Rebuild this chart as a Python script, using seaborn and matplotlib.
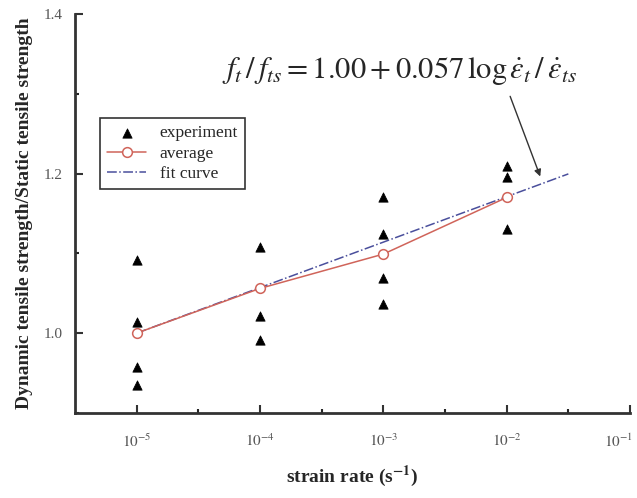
import numpy as np
import pandas as pd
import seaborn as sns
import matplotlib.pyplot as plt
import matplotlib.transforms as mtransforms

# strain rates (s^-1)
rates = [1e-5, 1e-4, 1e-3, 1e-2]

# experiment points
exp_rate = [1e-5, 1e-5, 1e-5, 1e-5,
            1e-4, 1e-4, 1e-4,
            1e-3, 1e-3, 1e-3, 1e-3,
            1e-2, 1e-2, 1e-2]
exp_ratio = [1.092, 1.014, 0.958, 0.935,
             1.108, 1.021, 0.991,
             1.171, 1.124, 1.069, 1.037,
             1.210, 1.195, 1.131]

avg_ratio = [1.000, 1.056, 1.099, 1.170]

# fit: f_t/f_ts = 1.00 + 0.057 log(rate / 1e-5)
fit_a = 1.00
fit_b = 0.057
fit_ref = 1e-5
fit_rate = [1e-5, 10 ** -1.5]

xtick_labels = [r'$10^{-5}$', r'$10^{-4}$', r'$10^{-3}$', r'$10^{-2}$', r'$10^{-1}$']
ytick_labels = ['1.0', '1.2', '1.4']

sns.set_style("ticks")
plt.rcParams['font.family'] = ['Liberation Serif', 'DejaVu Serif']
plt.rcParams['mathtext.fontset'] = 'stix'
plt.rcParams['xtick.direction'] = 'in'
plt.rcParams['ytick.direction'] = 'in'

df_exp = pd.DataFrame({'rate': exp_rate, 'ratio': exp_ratio})
df_avg = pd.DataFrame({'rate': rates, 'ratio': avg_ratio})
df_fit = pd.DataFrame({'rate': fit_rate})
df_fit['ratio'] = fit_a + fit_b * np.log10(df_fit['rate'] / fit_ref)

fig = plt.figure(figsize=(6.37, 4.98), dpi=100)
ax = fig.add_axes([0.118, 0.171, 0.871, 0.801])

sns.lineplot(data=df_fit, x='rate', y='ratio', ax=ax, color='#4a4f9c',
             linestyle='-.', linewidth=1.1, label='fit curve', zorder=2)
sns.lineplot(data=df_avg, x='rate', y='ratio', ax=ax, color='#d0645a',
             linewidth=1.1, marker='o', markersize=7, markerfacecolor='white',
             markeredgecolor='#d0645a', markeredgewidth=1.1, label='average', zorder=3)
sns.scatterplot(data=df_exp, x='rate', y='ratio', ax=ax, marker='^', color='black',
                s=45, edgecolor='black', label='experiment', zorder=4)

ax.set_xscale('log')
ax.set_xlim(10 ** -5.5, 1e-1)
ax.set_ylim(0.9, 1.4)
ax.set_xticks([1e-5, 1e-4, 1e-3, 1e-2, 1e-1])
ax.set_xticklabels(xtick_labels)
ax.set_xticks([10 ** -4.5, 10 ** -3.5, 10 ** -2.5, 10 ** -1.5], minor=True)
ax.set_yticks([1.0, 1.2, 1.4])
ax.set_yticklabels(ytick_labels)
ax.set_yticks([0.9, 1.1, 1.3], minor=True)
ax.tick_params(axis='both', which='major', length=6, width=1.5, labelsize=11, colors='#333333')
ax.tick_params(axis='x', which='major', pad=14)
ax.tick_params(axis='y', which='major', pad=9)
ax.tick_params(axis='both', which='minor', length=3, width=1.5)
for lab in ax.get_xticklabels() + ax.get_yticklabels():
    lab.set_color('#555555')
# keep the last x label inside the figure
last = ax.get_xticklabels()[-1]
last.set_transform(last.get_transform() + mtransforms.ScaledTranslation(-8 / 72, 0, fig.dpi_scale_trans))

sns.despine(ax=ax)
ax.spines['left'].set_linewidth(2)
ax.spines['bottom'].set_linewidth(2)
ax.spines['left'].set_color('#333333')
ax.spines['bottom'].set_color('#333333')

ax.set_xlabel(r'strain rate (s$^{\mathbf{-1}}$)', fontsize=14, fontweight='bold', labelpad=10)
ax.set_ylabel('Dynamic tensile strength/Static tensile strength', fontsize=14,
              fontweight='bold', labelpad=8)

handles, labels = ax.get_legend_handles_labels()
order = [labels.index('experiment'), labels.index('average'), labels.index('fit curve')]
leg = ax.legend([handles[i] for i in order], [labels[i] for i in order],
                loc='upper left', bbox_to_anchor=(0.03, 0.76), fontsize=12.5,
                frameon=True, fancybox=False, edgecolor='black', handlelength=2.2,
                borderpad=0.4, labelspacing=0.25)
leg.get_frame().set_linewidth(1.2)

ax.text(10 ** -2.87, 1.329,
        r'$f_t\,/\,f_{ts} = 1.00 + 0.057\,\log\dot{\varepsilon}_t\,/\,\dot{\varepsilon}_{ts}$',
        fontsize=22, ha='center', va='center')
ax.annotate('', xy=(10 ** -1.72, 1.193), xytext=(10 ** -1.98, 1.30),
            arrowprops=dict(arrowstyle='-|>', color='#333333', lw=1.0))

fig.savefig('out.png', dpi=100)
